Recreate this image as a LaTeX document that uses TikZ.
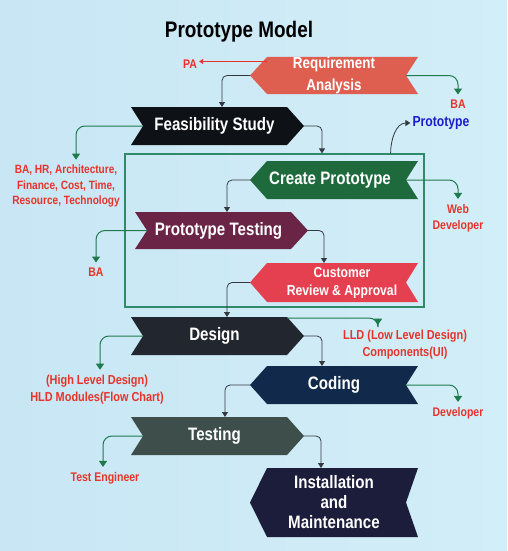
\documentclass[tikz,border=0pt]{standalone}
\usepackage{fontspec}
\setmainfont{Liberation Sans}[FakeStretch=0.84]
\usetikzlibrary{calc,arrows.meta}

\definecolor{bgLeft}{HTML}{C8E6F4}
\definecolor{bgRight}{HTML}{D2EEF8}
\definecolor{reqRed}{HTML}{DE5F50}
\definecolor{feasBlack}{HTML}{0E1116}
\definecolor{createGreen}{HTML}{1E6A3D}
\definecolor{testMaroon}{HTML}{6A2546}
\definecolor{custRed}{HTML}{E4404F}
\definecolor{designDark}{HTML}{22262F}
\definecolor{codingNavy}{HTML}{112A4B}
\definecolor{testingSlate}{HTML}{3E4F4B}
\definecolor{installNavy}{HTML}{1B1D3A}
\definecolor{boxGreen}{HTML}{2E8A68}
\definecolor{sideGreen}{HTML}{1F7A4C}
\definecolor{flowGray}{HTML}{33393F}
\definecolor{noteRed}{HTML}{E8332A}
\definecolor{protoBlue}{HTML}{1C1CCF}

\tikzset{
	stagetext/.style={text=white, font=\bfseries\fontsize{18}{20}\selectfont, align=center, inner sep=0pt},
	note/.style={text=noteRed, font=\bfseries\fontsize{12.5}{16}\selectfont, align=center, inner sep=2pt},
	flow/.style={draw=flowGray, line width=0.8pt, rounded corners=5pt, -{Triangle[width=6pt,length=5pt]}},
	side/.style={draw=sideGreen, line width=1pt, rounded corners=9pt, shorten >=3pt, -{Triangle[width=8pt,length=6pt]}},
	protobox/.style={draw=boxGreen, line width=1.2pt, inner sep=0pt}
}

% chevron pointing right: name, cx, cy, half width, half height, colour, node options, text
\newcommand{\chevR}[8]{
	\fill[#6] (#2-#4,#3-#5) -- (#2+#4-17,#3-#5) -- (#2+#4,#3) -- (#2+#4-17,#3+#5) -- (#2-#4,#3+#5) -- (#2-#4+12,#3) -- cycle;
	\node[stagetext, #7] (#1) at (#2-3,#3) {#8};
	\coordinate (#1-tip) at (#2+#4,#3);
	\coordinate (#1-notch) at (#2-#4+12,#3);
	\coordinate (#1-top) at (#2,#3-#5);
	\coordinate (#1-corner) at (#2+#4-17,#3-#5);
}
% chevron pointing left
\newcommand{\chevL}[8]{
	\fill[#6] (#2+#4,#3-#5) -- (#2-#4+17,#3-#5) -- (#2-#4,#3) -- (#2-#4+17,#3+#5) -- (#2+#4,#3+#5) -- (#2+#4-12,#3) -- cycle;
	\node[stagetext, #7] (#1) at (#2,#3) {#8};
	\coordinate (#1-tip) at (#2-#4,#3);
	\coordinate (#1-notch) at (#2+#4-12,#3);
	\coordinate (#1-top) at (#2,#3-#5);
}

\begin{document}
\begin{tikzpicture}[x=1pt, y=-1pt]
			%%%%% START %%%%%
			
			\shade[left color=bgLeft, right color=bgRight] (0,0) rectangle (507,551);
			\useasboundingbox (0,0) rectangle (507,551);
			
			\node[font=\bfseries\fontsize{22.5}{26}\selectfont] (title) at (239,32) {Prototype Model};
			
			\node[protobox, minimum width=299pt, minimum height=153pt] (box) at (274.5,230.5) {};
			
			\chevL{req}{334}{75.5}{84}{18.5}{reqRed}{font=\bfseries\fontsize{16}{22}\selectfont}{Requirement\\Analysis}
			\chevR{feas}{217.5}{126}{86.5}{19}{feasBlack}{}{Feasibility Study}
			\chevL{create}{334}{180}{84}{19}{createGreen}{xshift=-4pt}{Create Prototype}
			\chevR{ptest}{221.5}{230.5}{86.5}{18.5}{testMaroon}{}{Prototype Testing}
			\chevL{cust}{334}{282.5}{84}{19.5}{custRed}{xshift=8pt, font=\bfseries\fontsize{14.5}{18}\selectfont}{Customer\\Review \& Approval}
			\chevR{design}{217.5}{336}{86.5}{19}{designDark}{}{Design}
			\chevL{coding}{334}{385}{84}{19}{codingNavy}{}{Coding}
			\chevR{testing}{217.5}{436}{86.5}{19}{testingSlate}{}{Testing}
			\chevL{install}{334}{502.5}{84}{34.5}{installNavy}{}{Installation\\and\\Maintenance}
			
			% notes
			\node[note] (pa) at (190,64) {PA};
			\node[note] (ba1) at (458,104) {BA};
			\node[note, text=protoBlue, font=\bfseries\fontsize{14.5}{16}\selectfont] (proto) at (441,123) {Prototype};
			\node[note, font=\bfseries\fontsize{12}{15.5}\selectfont] (skills) at (66,186) {BA, HR, Architecture,\\Finance, Cost, Time,\\Resource, Technology};
			\node[note] (web) at (458,218) {Web\\Developer};
			\node[note] (ba2) at (96,272) {BA};
			\node[note, font=\bfseries\fontsize{13}{17}\selectfont] (lld) at (405,344.5) {LLD (Low Level Design)\\Components(UI)};
			\node[note, font=\bfseries\fontsize{13}{17}\selectfont] (hld) at (97,389.5) {(High Level Design)\\HLD Modules(Flow Chart)};
			\node[note] (dev) at (458,413) {Developer};
			\node[note] (test) at (105,478) {Test Engineer};
			
			% main flow
			\draw[flow] (req-tip) -| ([xshift=4.5pt]feas-top);
			\draw[flow] (feas-tip) -| ([xshift=47.5pt]box.north);
			\draw[flow] ([xshift=-34pt]box.north east) to[out=90, in=180] (proto.west);
			\draw[flow] (create-tip) -| ([xshift=5.5pt]ptest-top);
			\draw[flow] (ptest-tip) -| ([xshift=-10pt]cust-top);
			\draw[flow] (cust-tip) -| ([xshift=9.5pt]design-top);
			\draw[flow] (design-tip) -| ([xshift=-12pt]coding-top);
			\draw[flow] (coding-tip) -| ([xshift=7.5pt]testing-top);
			\draw[flow] (testing-tip) -| ([xshift=-13pt]install-top);
			
			% who does it
			\coordinate (pa-start) at ($(req-tip)+(17,-14)$);
			\draw[noteRed, line width=0.8pt, -{Triangle[width=5pt,length=4pt]}] (pa-start) -- (pa-start -| pa.east);
			\draw[side] (req-notch) -| (ba1.north);
			\draw[side] (feas-notch) -| ([xshift=10pt]skills.north);
			\draw[side] (create-notch) -| (web.north);
			\draw[side] (ptest-notch) -| (ba2.north);
			\draw[side] ([yshift=-1pt]design-corner) -| ([xshift=-27pt]lld.north);
			\draw[side] (design-notch) -| ([xshift=3pt]hld.north);
			\draw[side] (coding-notch) -| (dev.north);
			\draw[side] (testing-notch) -| ([xshift=-2pt]test.north);
			
			%%%%% END %%%%%
\end{tikzpicture}
\end{document}
